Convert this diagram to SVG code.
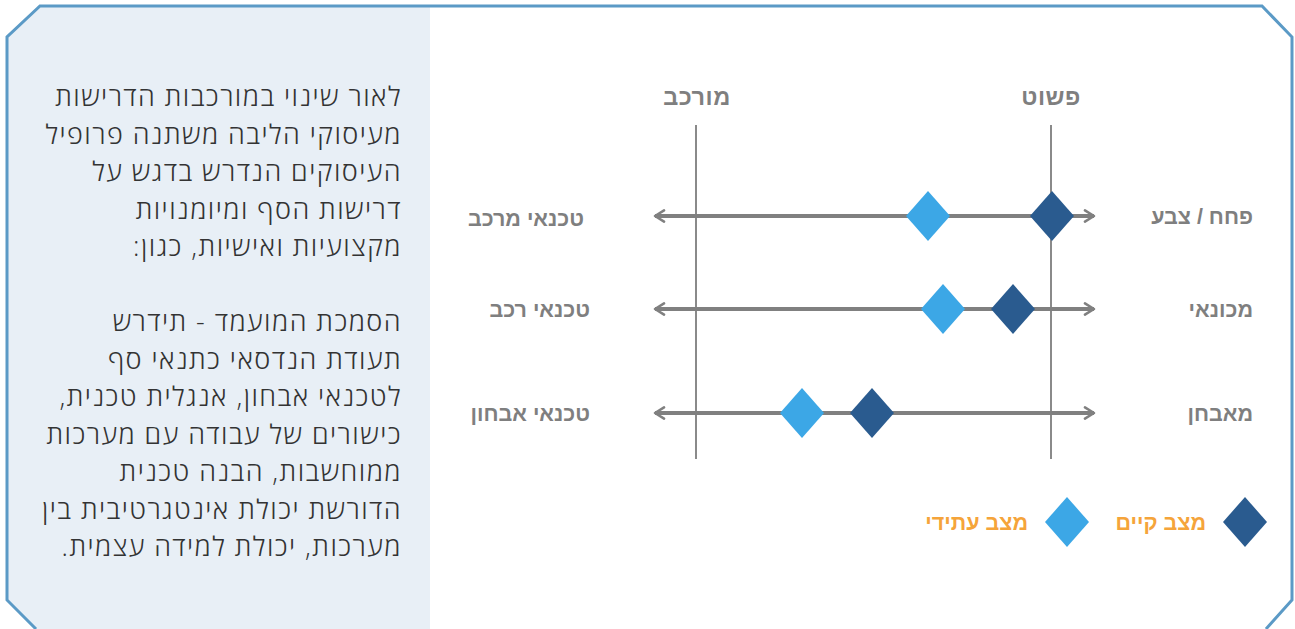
<svg xmlns="http://www.w3.org/2000/svg" width="1295" height="629" viewBox="0 0 1295 629">
<defs>
<style>
.body{font-family:"Open Sans","Liberation Sans","DejaVu Sans",sans-serif;font-weight:300;font-size:27px;letter-spacing:1.45px;fill:#333333;direction:rtl;unicode-bidi:embed;text-anchor:start}
.lbl{font-family:"Liberation Sans","DejaVu Sans",sans-serif;font-weight:bold;font-size:21.5px;fill:#7f7f7f;direction:rtl;unicode-bidi:embed;text-anchor:start}
.hdr{font-family:"Liberation Sans","DejaVu Sans",sans-serif;font-weight:bold;font-size:23.5px;letter-spacing:0.5px;fill:#7f7f7f;direction:rtl;unicode-bidi:embed;text-anchor:middle}
.leg{font-family:"Liberation Sans","DejaVu Sans",sans-serif;font-weight:bold;font-size:21.5px;fill:#f5a43a;direction:rtl;unicode-bidi:embed;text-anchor:start}
.axis{stroke:#8a8a8a;stroke-width:2;fill:none}
.arrow{stroke:#808080;stroke-width:4;fill:none;marker-start:url(#ah);marker-end:url(#ah)}
.cur{fill:#2a5b8f}
.fut{fill:#3ca7e6}
</style>
<marker id="ah" viewBox="0 0 12 12" refX="10" refY="6" markerWidth="3.4" markerHeight="3.4" orient="auto-start-reverse" markerUnits="strokeWidth">
<path d="M2,1 L10,6 L2,11" fill="none" stroke="#808080" stroke-width="2.2" stroke-linecap="round" stroke-linejoin="round"/>
</marker>
</defs>
<rect width="1295" height="629" fill="#ffffff"/>
<g id="frame">
<path d="M7,37 L40,6 L430,6 L430,629 L36,629 L7,600 Z" fill="#e8eff6"/>
<path d="M36,629 L7,600 L7,37 L40,6 L1262,6 L1292,37 L1292,600 L1266,629" fill="none" stroke="#5b9ac6" stroke-width="3"/>
</g>
<g id="description">
<text class="body" x="402" y="106">לאור שינוי במורכבות הדרישות</text>
<text class="body" x="402" y="143.5">מעיסוקי הליבה משתנה פרופיל</text>
<text class="body" x="402" y="181">העיסוקים הנדרש בדגש על</text>
<text class="body" x="402" y="218.5">דרישות הסף ומיומנויות</text>
<text class="body" x="402" y="256">מקצועיות ואישיות, כגון:</text>
<text class="body" x="402" y="331">הסמכת המועמד - תידרש</text>
<text class="body" x="402" y="368.5">תעודת הנדסאי כתנאי סף</text>
<text class="body" x="402" y="406">לטכנאי אבחון, אנגלית טכנית,</text>
<text class="body" x="402" y="443.5">כישורים של עבודה עם מערכות</text>
<text class="body" x="402" y="481">ממוחשבות, הבנה טכנית</text>
<text class="body" x="402" y="518.5">הדורשת יכולת אינטגרטיבית בין</text>
<text class="body" x="402" y="556">מערכות, יכולת למידה עצמית.</text>
</g>
<g id="axes">
<line class="axis" x1="696" y1="125" x2="696" y2="459"/>
<line class="axis" x1="1051" y1="125" x2="1051" y2="459"/>
<text class="hdr" x="697" y="105">מורכב</text>
<text class="hdr" x="1051" y="105">פשוט</text>
</g>
<g id="connectors">
<line class="arrow" x1="655" y1="216" x2="1094" y2="216"/>
<line class="arrow" x1="655" y1="309" x2="1094" y2="309"/>
<line class="arrow" x1="655" y1="413" x2="1094" y2="413"/>
</g>
<g id="row1">
<text class="lbl" x="1253" y="224">פחח / צבע</text>
<text class="lbl" x="584" y="226">טכנאי מרכב</text>
<polygon class="fut" points="928,191 950,216 928,241 906,216"/>
<polygon class="cur" points="1052,191 1074,216 1052,241 1030,216"/>
</g>
<g id="row2">
<text class="lbl" x="1253" y="317">מכונאי</text>
<text class="lbl" x="590" y="317">טכנאי רכב</text>
<polygon class="fut" points="943,284 965,309 943,334 921,309"/>
<polygon class="cur" points="1013,284 1035,309 1013,334 991,309"/>
</g>
<g id="row3">
<text class="lbl" x="1253" y="421">מאבחן</text>
<text class="lbl" x="590" y="421">טכנאי אבחון</text>
<polygon class="fut" points="802,388 824,413 802,438 780,413"/>
<polygon class="cur" points="872,388 894,413 872,438 850,413"/>
</g>
<g id="legend">
<polygon class="cur" points="1245,497 1267,522 1245,547 1223,522"/>
<text class="leg" x="1206" y="530">מצב קיים</text>
<polygon class="fut" points="1067,497 1089,522 1067,547 1045,522"/>
<text class="leg" x="1028" y="530">מצב עתידי</text>
</g>
</svg>
